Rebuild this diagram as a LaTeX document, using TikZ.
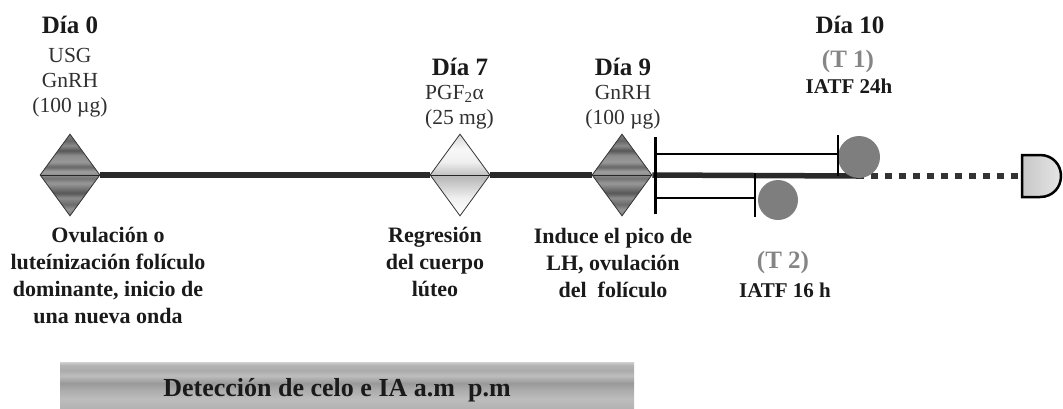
\documentclass[tikz,border=0pt]{standalone}
\usepackage{fontspec}
\setmainfont{Liberation Serif}
\usetikzlibrary{shapes.geometric}

\definecolor{ink}{HTML}{1A1A1A}
\definecolor{soft}{HTML}{303030}
\definecolor{tgray}{HTML}{858585}
\definecolor{dotgray}{HTML}{7E7E7E}
\definecolor{axisline}{HTML}{2A2A2A}

% metallic looking fills (bottom -> top)
\pgfdeclareverticalshading{darkstripes}{100bp}{color(0bp)=(black!52); color(25bp)=(black!52);
  color(29bp)=(black!42); color(32bp)=(black!58); color(36bp)=(black!45); color(39bp)=(black!66);
  color(42bp)=(black!53); color(45bp)=(black!40); color(48bp)=(black!55); color(50bp)=(black!46);
  color(52bp)=(black!37); color(55bp)=(black!60); color(58bp)=(black!40); color(62bp)=(black!45);
  color(65bp)=(black!66); color(68bp)=(black!46); color(71bp)=(black!60); color(75bp)=(black!50);
  color(100bp)=(black!50)}
\pgfdeclareverticalshading{lightstripes}{100bp}{color(0bp)=(white); color(25bp)=(white);
  color(36bp)=(black!6); color(49bp)=(black!28); color(51bp)=(black!22); color(58bp)=(black!6);
  color(66bp)=(black!3); color(75bp)=(black!16); color(100bp)=(black!16)}
\pgfdeclareverticalshading{barstripes}{100bp}{color(0bp)=(black!30); color(25bp)=(black!30);
  color(35bp)=(black!26); color(45bp)=(black!33); color(52bp)=(black!40); color(60bp)=(black!26);
  color(66bp)=(black!33); color(72bp)=(black!29); color(75bp)=(black!18); color(100bp)=(black!18)}

\tikzset{
  hormone/.style={diamond, draw=black!80, line width=0.8pt, minimum width=60pt,
    minimum height=82pt, inner sep=0pt, shade, shading=darkstripes,
    path picture={\draw[black!85, line width=1pt] (path picture bounding box.west)
      -- (path picture bounding box.east);}},
  luteo/.style={hormone, shading=lightstripes},
  daytitle/.style={font=\bfseries\fontsize{25}{28}\selectfont, text=ink, inner sep=0pt, anchor=base},
  dose/.style={font=\fontsize{21.5}{25}\selectfont, text=soft, inner sep=0pt, align=center, anchor=north},
  effect/.style={font=\bfseries\fontsize{22}{27}\selectfont, text=ink, inner sep=0pt, align=center, anchor=north},
  trt/.style={font=\bfseries\fontsize{25}{28}\selectfont, text=tgray, inner sep=0pt, anchor=base},
  iatf/.style={font=\bfseries\fontsize{21}{25}\selectfont, text=ink, inner sep=0pt, anchor=base},
  bracket/.style={black, line width=2.6pt},
  insem/.style={circle, fill=dotgray, minimum size=42pt, inner sep=0pt},
}

\begin{document}
\begin{tikzpicture}[x=1pt,y=-1pt]
\useasboundingbox (0,0) rectangle (1063,408);

% detection bar
\fill[shading=barstripes] (60,362) rectangle (634,408);
\node[font=\bfseries\fontsize{26}{28}\selectfont, text=ink, inner sep=0pt, anchor=base] (celo) at (337,396) {Detección de celo e IA a.m\ \ p.m};

% timeline
\node[hormone] (d0) at (70,175) {};
\node[luteo] (d7) at (460,175) {};
\node[hormone] (d9) at (622,175) {};
\coordinate (lineend) at (857,176);
\coordinate (capw) at (1022,176);

\draw[axisline, line width=5.5pt] (d0.east) -- (d7.west);
\draw[axisline, line width=5.5pt] (d7.east) -- (d9.west);
\draw[axisline, line width=5.5pt] (d9.east) -- (lineend);
\draw[black!80, line width=6pt, dash pattern=on 7pt off 7pt] (lineend) -- (capw);

% inseminations
\node[insem] (c1) at (859,157) {};
\node[insem, minimum size=40pt] (c2) at (778,200) {};

% brackets T1 / T2
\coordinate (b0) at (655,137);
\coordinate (b1) at (655,214);
\coordinate (u0) at (655,154);
\coordinate (u1) at (838,154);
\coordinate (v0) at (838,135);
\coordinate (v1) at (838,176);
\coordinate (l0) at (655,198);
\coordinate (l1) at (755,198);
\coordinate (w0) at (755,173);
\coordinate (w1) at (755,217);
\draw[bracket, line width=3pt] (b0) -- (b1);
\draw[bracket] (u0) -- (u1);
\draw[bracket] (v0) -- (v1);
\draw[bracket] (l0) -- (l1);
\draw[bracket] (w0) -- (w1);

% end cap
\draw[black, line width=2.5pt, left color=black!22, middle color=white, right color=black!10]
  (1022,155) -- (1040,155) .. controls (1053,155) and (1061,165) .. (1061,176)
  .. controls (1061,187) and (1053,197) .. (1040,197) -- (1022,197) -- cycle;

% labels above
\node[daytitle] (lab0) at (70,33) {Día 0};
\node[dose] (dose0) at (70,48) {USG\\GnRH\\(100 µg)};
\node[daytitle] (lab7) at (460,75) {Día 7};
\node[dose, align=left, anchor=north west] (dose7) at (425,85) {PGF\textsubscript{2}α\\(25 mg)};
\node[daytitle] (lab9) at (623,75) {Día 9};
\node[dose] (dose9) at (623,85) {GnRH\\(100 µg)};
\node[daytitle] (lab10) at (850,33) {Día 10};
\node[trt] (t1) at (848,67) {(T 1)};
\node[iatf] (iatf24) at (849,93) {IATF 24h};

% labels below
\node[effect] (eff0) at (108,227) {Ovulación o\\luteínización folículo\\dominante, inicio de\\una nueva onda};
\node[effect] (eff7) at (435,227) {Regresión\\del cuerpo\\lúteo};
\node[effect] (eff9) at (613,228) {Induce el pico de\\LH, ovulación\\del\ \ folículo};
\node[trt] (t2) at (783,268) {(T 2)};
\node[iatf] (iatf16) at (785,297) {IATF 16 h};
\end{tikzpicture}
\end{document}
